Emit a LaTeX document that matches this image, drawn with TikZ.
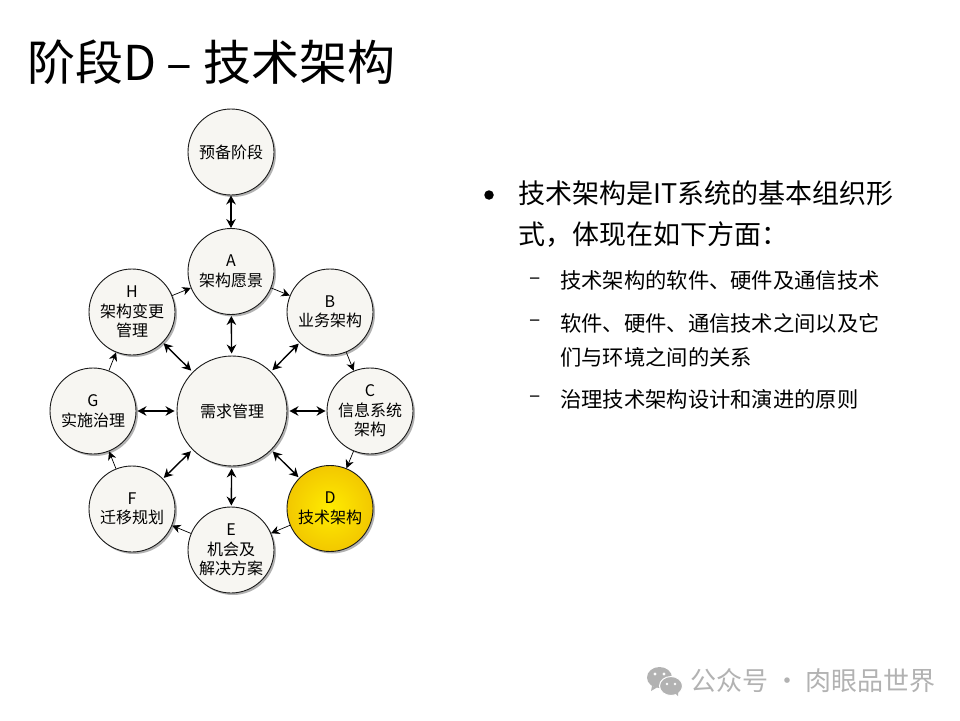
\documentclass[tikz,border=0pt]{standalone}
\usepackage{fontspec}
\setmainfont{Noto Sans CJK SC}
\usetikzlibrary{arrows.meta,shadows}
\definecolor{phasefill}{HTML}{F7F6F2}
\definecolor{phaseedge}{HTML}{1A1A1A}
\definecolor{markgray}{HTML}{B2B2B2}
\tikzset{
  phase/.style={circle, draw=phaseedge, line width=0.9pt, fill=phasefill, minimum size=86pt, inner sep=0pt,
    align=center, font=\fontsize{16}{19.5}\selectfont,
    drop shadow={shadow xshift=2pt, shadow yshift=-2pt, fill=black, opacity=0.3}},
  active/.style={phase, draw=phaseedge, inner color=yellow!85!orange, outer color=yellow!65!orange!95!black},
  flow/.style={-{Stealth[length=8.5pt,width=8.5pt]}, line width=0.7pt, black},
  link/.style={{Stealth[length=9pt,width=9.5pt]}-{Stealth[length=9pt,width=9.5pt]}, line width=1.4pt, black},
  headtext/.style={anchor=west, inner sep=0pt, align=left, text=black},
}
\begin{document}
\begin{tikzpicture}[x=1pt, y=-1pt]
  \useasboundingbox (0,0) rectangle (960,720);
  \fill[white] (0,0) rectangle (960,720);

  \node[headtext, font=\fontsize{48}{48}\selectfont] (title) at (27,62) {阶段D – 技术架构};

  \node[phase] (prelim) at (231,152) {预备阶段};
  \node[phase] (phaseA) at (231,271.5) {A\\架构愿景};
  \node[phase] (phaseB) at (330,312) {B\\业务架构};
  \node[phase] (phaseC) at (370,411) {C\\信息系统\\架构};
  \node[active] (phaseD) at (330,508.5) {D\\技术架构};
  \node[phase] (phaseE) at (231,550) {E\\机会及\\解决方案};
  \node[phase] (phaseF) at (132,509) {F\\迁移规划};
  \node[phase] (phaseG) at (93,411) {G\\实施治理};
  \node[phase] (phaseH) at (132,312) {H\\架构变更\\管理};
  \node[phase, minimum size=110pt] (reqs) at (232,411) {需求管理};

  \foreach \src/\dst in {phaseA/phaseB, phaseB/phaseC, phaseC/phaseD, phaseD/phaseE,
                         phaseE/phaseF, phaseF/phaseG, phaseG/phaseH, phaseH/phaseA}
    \draw[flow] (\src) -- (\dst);
  \draw[link] (prelim) -- (phaseA);
  \foreach \dst in {phaseA, phaseB, phaseC, phaseD, phaseE, phaseF, phaseG, phaseH}
    \draw[link, shorten >=1pt, shorten <=2pt] (reqs) -- (\dst);

  \node[circle, fill=black, minimum size=9.5pt, inner sep=0pt] (bullet) at (489,195) {};
  \node[headtext, font=\fontsize{27}{41}\selectfont] (lead) at (518,214.5) {技术架构是IT系统的基本组织形\\式，体现在如下方面：};
  \node[font=\fontsize{21}{21}\selectfont, inner sep=0pt] (dashA) at (535,281) {–};
  \node[font=\fontsize{21}{21}\selectfont, inner sep=0pt] (dashB) at (535,323) {–};
  \node[font=\fontsize{21}{21}\selectfont, inner sep=0pt] (dashC) at (535,399) {–};
  \node[headtext, font=\fontsize{21.3}{34}\selectfont] (itemA) at (560,280) {技术架构的软件、硬件及通信技术};
  \node[headtext, font=\fontsize{21.3}{34}\selectfont] (itemB) at (560,340) {软件、硬件、通信技术之间以及它\\们与环境之间的关系};
  \node[headtext, font=\fontsize{21.3}{34}\selectfont] (itemC) at (560,399) {治理技术架构设计和演进的原则};

  \fill[markgray] (659.5,677.5) ellipse (12.5 and 10.5);
  \fill[markgray] (652,686) -- (651,691) -- (657,687.5) -- cycle;
  \fill[markgray, draw=white, line width=1pt] (671,686) ellipse (11.5 and 9.5);
  \fill[markgray] (675,693) -- (678,696) -- (678,691) -- cycle;
  \fill[white] (655,674) circle (1.6) (664,674) circle (1.6) (667,684) circle (1.4) (675,684) circle (1.4);
  \node[headtext, text=markgray, font=\fontsize{26}{26}\selectfont] (mark) at (690,681) {公众号 · 肉眼品世界};
\end{tikzpicture}
\end{document}
